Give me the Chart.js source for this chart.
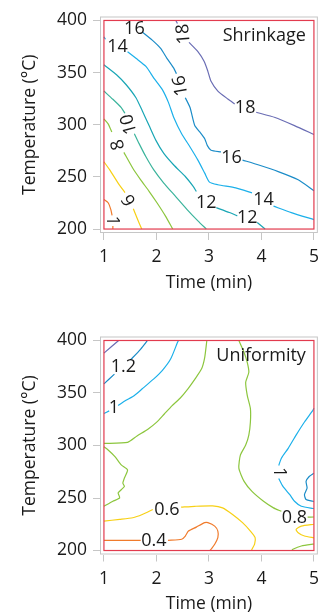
<!DOCTYPE html>
<html>
<head>
<meta charset="utf-8">
<script src="https://cdn.jsdelivr.net/npm/chart.js@4/dist/chart.umd.min.js"></script>
<style>
  html, body { margin: 0; padding: 0; background: #fff; width: 321px; height: 613px; overflow: hidden; }
  canvas { position: absolute; left: 0; }
  #shrink { top: 0; }
  #uniform { top: 300px; }
</style>
</head>
<body>
<canvas id="shrink" width="326" height="300"></canvas>
<canvas id="uniform" width="326" height="313"></canvas>
<script>
/* Axes */
const timeTicks = [1, 2, 3, 4, 5];
const tempTicks = [200, 250, 300, 350, 400];

/* Shrinkage contours, [time, temperature], null = gap under a label */
const shrink18 = [[2.37, 400], [2.40, 397], null, [2.62, 379], [2.79, 370.1], [2.91, 360.6], [2.98, 351.2], [3.04, 341.7], [3.17, 332.3], [3.36, 324.7], [3.49, 320], null, [3.90, 312], [4.26, 307], [4.63, 299.2], [5, 290.7]];
const shrink16 = [[1.73, 388.9], [1.92, 381.1], [2.08, 373.2], [2.20, 363.7], [2.33, 354.3], [2.38, 349], null, [2.55, 325.9], [2.64, 316.5], [2.73, 299.2], [2.83, 292.9], [2.92, 286.6], [2.97, 280], [3.04, 275.6], [3.23, 274], null, [3.64, 266.1], [3.95, 261.4], [4.32, 255.1], [4.70, 247.2], [5, 236.8]];
const shrink14 = [[1, 384.2], [1.03, 382], null, [1.45, 370], [1.61, 363.7], [1.80, 355.9], [1.95, 344.8], [2.11, 333.9], [2.23, 321.2], [2.33, 307], [2.48, 291.4], [2.64, 278.7], [2.79, 266.1], [2.92, 253.6], [3.01, 245], [3.17, 242.5], [3.51, 239.4], [3.82, 234.7], null, [4.23, 222], [4.57, 215.8], [5, 209]];
const shrink12 = [[1, 357.5], [1.24, 348], [1.42, 338.6], [1.61, 325.9], [1.73, 313.4], [1.86, 299.2], [1.99, 285], [2.14, 272.5], [2.33, 261.4], [2.55, 250.4], [2.70, 240.9], [2.76, 236], null, [3.14, 220.5], [3.39, 215.8], [3.54, 212.6], null, [3.92, 206.3], [4.07, 200]];
const shrink10 = [[1, 332.3], [1.17, 324.4], [1.33, 316.5], [1.40, 311], null, [1.58, 291.4], [1.67, 281.9], [1.80, 269.3], [1.95, 256.7], [2.14, 244.1], [2.36, 231.5], [2.58, 218.9], [2.79, 207.8], [2.95, 200]];
const shrink8 = [[1, 305.5], [1.08, 300.8], [1.15, 293], null, [1.38, 273.5], [1.55, 258.3], [1.70, 247.2], [1.86, 236.2], [2.01, 225.2], [2.17, 212.6], [2.31, 200]];
const shrink6 = [[1, 264.5], [1.11, 256.7], [1.27, 244.1], [1.40, 235], null, [1.56, 219.5], [1.64, 209.4], [1.72, 200]];
const shrink4 = [[1, 228.3], [1.08, 225.2], [1.13, 218.9], [1.155, 213], null, [1.17, 203], [1.17, 200]];

const shrinkLabels = [
  ["18", 2.52, 387, -95], ["18", 3.69, 316.5, 0],
  ["16", 1.58, 392, 0], ["16", 2.46, 337.5, -100], ["16", 3.43, 268, 0],
  ["14", 1.26, 375, 0], ["14", 4.04, 228.3, 0],
  ["12", 2.95, 225.2, 0], ["12", 3.73, 211, 0],
  ["10", 1.48, 300.5, -105], ["8", 1.27, 281, -105], ["6", 1.48, 228, -120], ["1", 1.16, 208, 90]
];

/* Uniformity contours */
const unif14 = [[1, 388], [1.28, 400]];
const unif12a = [[1, 358.7], [1.2, 368], null, [1.5, 381.5], [1.55, 383.8], [1.70, 391.8], [1.83, 400]];
const unif12b = [[5, 273.7], [4.91, 270.5], [4.85, 265.8], [4.87, 259.5], [4.82, 253.2], [4.85, 248.5], [4.98, 246.9], [5, 246.5]];
const unif1a = [[1, 330.4], [1.1, 333], null, [1.27, 338.2], [1.42, 343], [1.58, 347.7], [1.73, 354], [1.95, 363.4], [2.11, 371.3], [2.27, 382.3], [2.40, 398], [2.42, 400]];
const unif1b = [[5, 335.4], [4.98, 333.5], [4.82, 322.4], [4.66, 309.9], [4.51, 297.3], [4.38, 287.9], [4.33, 281], null, [4.33, 268.5], [4.41, 261], [4.54, 253.2], [4.63, 246.9], [4.76, 242.1], [4.98, 240], [5, 240]];
const unif08a = [[1, 302], [1.45, 303], [1.63, 309], [1.85, 316], [2.0, 322], [2.15, 330], [2.3, 338], [2.45, 345], [2.6, 354], [2.73, 363], [2.86, 373], [2.92, 384], [2.96, 400]];
const unif08b = [[3.57, 400], [3.67, 388.6], [3.73, 379.1], [3.76, 369.7], [3.70, 360.2], [3.73, 347.7], [3.79, 335.1], [3.79, 322.4], [3.76, 309.9], [3.70, 300.4], [3.60, 291], [3.57, 278.4], [3.67, 265.8], [3.82, 256.3], [4.04, 246.9], [4.23, 240.6], [4.38, 237.4], null, [4.88, 231.8], [5, 231.9]];
const unif08c = [[1, 298.8], [1.08, 295.7], [1.21, 289.4], [1.33, 281.5], [1.45, 276.8], [1.39, 269], [1.36, 264.2], [1.39, 261], [1.33, 257.9], [1.27, 254.8], [1.30, 250.1], [1.17, 246.9], [1, 242.1]];
const unif08d = [[4.58, 200], [4.60, 201.2], [4.76, 204.3], [4.98, 206], [5, 206]];
const unif06a = [[1, 228], [1.30, 229.6], [1.55, 231.2], [1.73, 234.3], [1.93, 239], null, [2.47, 241.3], [2.73, 242.1], [3.07, 242.5], [3.26, 240.6], [3.45, 234.3], [3.64, 226.5], [3.79, 218.5], [3.88, 212.3], [3.87, 206], [3.82, 201.2], [3.81, 200]];
const unif06b = [[5, 225], [4.76, 223.2], [4.66, 220.1], [4.70, 217], [4.82, 213.8], [5, 212.1]];
const unif04 = [[1, 209.7], [1.70, 209.7], null, [2.22, 209.7], [2.48, 210.7], [2.55, 213.8], [2.61, 218.5], [2.76, 222.3], [2.92, 226.5], [2.98, 226.5], [3.11, 223.2], [3.17, 218.5], [3.17, 212.3], [3.11, 206], [3.04, 201.2], [3.02, 200]];

const unifLabels = [
  ["1.2", 1.37, 374.5, 0], ["1", 1.19, 335.5, 0], ["1", 4.33, 274.7, 90],
  ["0.8", 4.63, 231.2, 0], ["0.6", 2.20, 239, 0], ["0.4", 1.95, 209.1, 0]
];

const COL = {
  purple: "#6a6db4", blue: "#1b8cc8", sky: "#1cb0ea", teal: "#19a6b5",
  seagreen: "#3bb49c", green: "#8cc63e", yellow: "#f7d015", orange: "#f07b2c"
};

Chart.defaults.font.family = '"Open Sans", sans-serif';
Chart.defaults.color = "#1a1a1a";

function toPoints(arr) {
  return arr.map(p => p ? { x: p[0], y: p[1] } : { x: null, y: null });
}

/* Frame, red box, contour labels and panel title */
function panelPlugin(labels, title) {
  return {
    id: "panel",
    afterDatasetsDraw(chart) {
      const { ctx, chartArea: a, scales: { x, y } } = chart;
      ctx.save();
      ctx.strokeStyle = "#c6c6c6";
      ctx.lineWidth = 1;
      ctx.strokeRect(a.left + 0.5, a.top + 0.5, a.right - a.left - 1, a.bottom - a.top - 1);

      const x0 = x.getPixelForValue(timeTicks[0]), x1 = x.getPixelForValue(timeTicks[timeTicks.length - 1]);
      const y0 = y.getPixelForValue(tempTicks[tempTicks.length - 1]), y1 = y.getPixelForValue(tempTicks[0]);
      ctx.strokeStyle = "#e23b4e";
      ctx.lineWidth = 1.2;
      ctx.strokeRect(x0, y0, x1 - x0, y1 - y0);

      ctx.fillStyle = "#1a1a1a";
      ctx.font = '18px "Open Sans", sans-serif';
      ctx.textAlign = "center";
      ctx.textBaseline = "middle";
      labels.forEach(([txt, lx, ly, rot]) => {
        ctx.save();
        ctx.translate(x.getPixelForValue(lx), y.getPixelForValue(ly));
        ctx.rotate(rot * Math.PI / 180);
        ctx.fillText(txt, 0, 0);
        ctx.restore();
      });

      ctx.textAlign = "right";
      ctx.fillText(title, a.right - 12, a.top + 19);
      ctx.restore();
    }
  };
}

function makeChart(id, lines, labels, title, pad) {
  new Chart(document.getElementById(id), {
    type: "scatter",
    data: {
      datasets: lines.map(([pts, color]) => ({
        data: toPoints(pts),
        borderColor: color,
        borderWidth: 1.2,
        pointRadius: 0,
        showLine: true,
        spanGaps: false,
        tension: 0.2
      }))
    },
    options: {
      responsive: false,
      animation: false,
      layout: { padding: pad },
      plugins: { legend: { display: false }, tooltip: { enabled: false } },
      scales: {
        x: {
          type: "linear",
          min: 0.925, max: 5.075,
          afterBuildTicks: s => { s.ticks = timeTicks.map(v => ({ value: v })); },
          afterFit: s => { s.height = 58; },
          ticks: { font: { size: 17.5 }, color: "#1a1a1a", padding: 7 },
          grid: { drawOnChartArea: false, tickLength: 7, color: "#c6c6c6" },
          border: { display: false },
          title: { display: true, text: "Time (min)", font: { size: 17.5 }, color: "#1a1a1a", padding: { top: 0, bottom: -2.5 } }
        },
        y: {
          type: "linear",
          min: 196.2, max: 403.8,
          afterBuildTicks: s => { s.ticks = tempTicks.map(v => ({ value: v })); },
          afterFit: s => { s.width = 80.8; },
          ticks: { font: { size: 17.5 }, color: "#1a1a1a", padding: 6 },
          grid: { drawOnChartArea: false, tickLength: 7, color: "#c6c6c6" },
          border: { display: false },
          title: { display: true, text: "Temperature (°C)", font: { size: 17.5 }, color: "#1a1a1a", padding: 0 }
        }
      }
    },
    plugins: [panelPlugin(labels, title)]
  });
}

makeChart("shrink", [
  [shrink18, COL.purple], [shrink16, COL.blue], [shrink14, COL.sky], [shrink12, COL.teal],
  [shrink10, COL.seagreen], [shrink8, COL.green], [shrink6, COL.yellow], [shrink4, COL.orange]
], shrinkLabels, "Shrinkage", { left: 19.2, right: 4, top: 14, bottom: 9 });

makeChart("uniform", [
  [unif14, COL.purple], [unif12a, COL.blue], [unif12b, COL.blue], [unif1a, COL.sky], [unif1b, COL.sky],
  [unif08a, COL.green], [unif08b, COL.green], [unif08c, COL.green], [unif08d, COL.green],
  [unif06a, COL.yellow], [unif06b, COL.yellow], [unif04, COL.orange]
], unifLabels, "Uniformity", { left: 19.2, right: 4, top: 36.5, bottom: 0.5 });
</script>
</body>
</html>
